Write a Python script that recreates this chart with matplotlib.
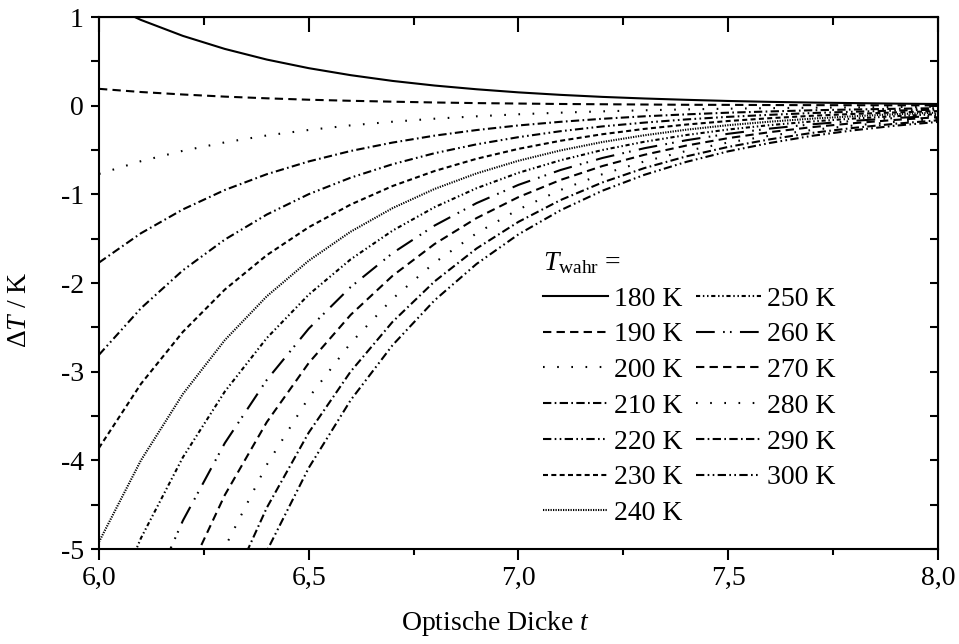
import matplotlib
matplotlib.use('Agg')
import matplotlib.pyplot as plt
import numpy as np

plt.rcParams['font.family'] = 'Liberation Serif'
plt.rcParams['mathtext.fontset'] = 'custom'
plt.rcParams['mathtext.rm'] = 'Liberation Serif'
plt.rcParams['mathtext.it'] = 'Liberation Serif:italic'

# optical depth samples
tau = [6.0, 6.1, 6.2, 6.3, 6.4, 6.5, 6.6, 6.7, 6.8, 6.9, 7.0,
       7.1, 7.2, 7.3, 7.4, 7.5, 7.6, 7.7, 7.8, 7.9, 8.0]

# delta T (K), one list per true temperature
dT_180 = [1.19, 0.967, 0.787, 0.640, 0.520, 0.423, 0.344, 0.279, 0.227, 0.185, 0.150,
          0.122, 0.099, 0.081, 0.066, 0.053, 0.043, 0.035, 0.029, 0.023, 0.019]
dT_190 = [0.19, 0.154, 0.126, 0.102, 0.083, 0.067, 0.055, 0.045, 0.036, 0.029, 0.024,
          0.019, 0.016, 0.013, 0.010, 0.009, 0.007, 0.006, 0.005, 0.004, 0.003]
dT_200 = [-0.77, -0.626, -0.509, -0.414, -0.336, -0.274, -0.222, -0.181, -0.147, -0.120, -0.097,
          -0.079, -0.064, -0.052, -0.042, -0.034, -0.028, -0.023, -0.019, -0.015, -0.012]
dT_210 = [-1.77, -1.439, -1.170, -0.951, -0.773, -0.629, -0.511, -0.416, -0.338, -0.275, -0.223,
          -0.182, -0.148, -0.120, -0.098, -0.079, -0.065, -0.052, -0.043, -0.035, -0.028]
dT_220 = [-2.81, -2.285, -1.857, -1.510, -1.228, -0.998, -0.812, -0.660, -0.536, -0.436, -0.355,
          -0.288, -0.234, -0.191, -0.155, -0.126, -0.103, -0.083, -0.068, -0.055, -0.045]
dT_230 = [-3.86, -3.138, -2.551, -2.074, -1.686, -1.371, -1.115, -0.906, -0.737, -0.599, -0.487,
          -0.396, -0.322, -0.262, -0.213, -0.173, -0.141, -0.114, -0.093, -0.076, -0.061]
dT_240 = [-4.92, -4.000, -3.252, -2.644, -2.150, -1.748, -1.421, -1.155, -0.939, -0.764, -0.621,
          -0.505, -0.410, -0.334, -0.271, -0.220, -0.180, -0.146, -0.119, -0.096, -0.078]
dT_250 = [-6.0, -4.878, -3.966, -3.224, -2.621, -2.131, -1.733, -1.409, -1.145, -0.931, -0.757,
          -0.616, -0.500, -0.407, -0.331, -0.269, -0.219, -0.178, -0.145, -0.118, -0.095]
dT_260 = [-7.08, -5.756, -4.680, -3.805, -3.093, -2.515, -2.045, -1.662, -1.352, -1.099, -0.893,
          -0.726, -0.590, -0.480, -0.390, -0.317, -0.258, -0.210, -0.171, -0.139, -0.113]
dT_270 = [-8.17, -6.642, -5.400, -4.391, -3.569, -2.902, -2.359, -1.918, -1.560, -1.268, -1.031,
          -0.838, -0.681, -0.554, -0.450, -0.366, -0.298, -0.242, -0.197, -0.160, -0.130]
dT_280 = [-9.27, -7.537, -6.127, -4.982, -4.050, -3.293, -2.677, -2.177, -1.770, -1.439, -1.170,
          -0.951, -0.773, -0.629, -0.511, -0.415, -0.338, -0.274, -0.223, -0.182, -0.147]
dT_290 = [-10.38, -8.439, -6.861, -5.578, -4.535, -3.687, -2.998, -2.437, -1.982, -1.611, -1.310,
          -1.065, -0.866, -0.704, -0.572, -0.465, -0.379, -0.307, -0.250, -0.203, -0.165]
dT_300 = [-11.5, -9.350, -7.602, -6.180, -5.024, -4.085, -3.321, -2.700, -2.195, -1.785, -1.451,
          -1.180, -0.959, -0.780, -0.634, -0.515, -0.420, -0.340, -0.277, -0.225, -0.183]

labels = ['180 K', '190 K', '200 K', '210 K', '220 K', '230 K', '240 K',
          '250 K', '260 K', '270 K', '280 K', '290 K', '300 K']
series = [dT_180, dT_190, dT_200, dT_210, dT_220, dT_230, dT_240,
          dT_250, dT_260, dT_270, dT_280, dT_290, dT_300]

# Origin-like dash patterns (in linewidth units)
styles = [
    '-',
    (0, (4, 2.5)),
    (0, (0.8, 6)),
    (0, (4, 1.6, 0.8, 1.6)),
    (0, (4, 1.6, 0.8, 1.6, 0.8, 1.6)),
    (0, (2.4, 1.6)),
    (0, (0.6, 0.6)),
    (0, (2, 1.3, 0.7, 1.3, 0.7, 1.3)),
    (0, (9, 4, 0.8, 2.5, 0.8, 4)),
    (0, (4, 2.5)),
    (0, (0.8, 6)),
    (0, (4, 1.6, 0.8, 1.6)),
    (0, (4, 1.6, 0.8, 1.6, 0.8, 1.6)),
]

xtick_vals = [6.0, 6.5, 7.0, 7.5, 8.0]
xtick_labels = ['6,0', '6,5', '7,0', '7,5', '8,0']
ytick_vals = [-5, -4, -3, -2, -1, 0, 1]
ytick_labels = ['-5', '-4', '-3', '-2', '-1', '0', '1']
xminor = [6.25, 6.75, 7.25, 7.75]
yminor = [-4.5, -3.5, -2.5, -1.5, -0.5, 0.5]

fig = plt.figure(figsize=(9.59, 6.44), dpi=100)
ax = fig.add_axes([0.1032, 0.1475, 0.8749, 0.8261])

for y, lab, ls in zip(series, labels, styles):
    ax.plot(tau, y, color='black', linewidth=1.5, linestyle=ls, label=lab)

ax.set_xlim(6.0, 8.0)
ax.set_ylim(-5, 1)
ax.set_xticks(xtick_vals)
ax.set_xticklabels(xtick_labels)
ax.set_xticks(xminor, minor=True)
ax.set_yticks(ytick_vals)
ax.set_yticklabels(ytick_labels)
ax.set_yticks(yminor, minor=True)

for sp in ax.spines.values():
    sp.set_linewidth(1.5)

ax.tick_params(axis='both', which='both', direction='out', labelsize=20, width=1.5)
ax.tick_params(axis='x', which='major', length=8, pad=4)
ax.tick_params(axis='x', which='minor', length=4.5)
ax.tick_params(axis='y', which='major', length=6, pad=5)
ax.tick_params(axis='y', which='minor', length=6)

top = ax.secondary_xaxis('top')
top.set_xticks(xtick_vals)
top.set_xticks(xminor, minor=True)
top.tick_params(which='both', direction='in', labeltop=False, width=1.5)
top.tick_params(which='major', length=11)
top.tick_params(which='minor', length=6)
right = ax.secondary_yaxis('right')
right.set_yticks(ytick_vals)
right.set_yticks(yminor, minor=True)
right.tick_params(which='both', direction='in', labelright=False, width=1.5, length=6)

ax.set_xlabel(r'Optische Dicke $t$', fontsize=20)
ax.set_ylabel(r'$\Delta T$ / K', fontsize=20)
ax.xaxis.set_label_coords(0.473, -0.113)
ax.yaxis.set_label_coords(-0.080, 0.449)

leg = ax.legend(ncol=2, frameon=False, fontsize=20,
                title=r'$T_{\mathrm{wahr}}$ =', title_fontsize=20,
                loc='upper left', bbox_to_anchor=(0.529, 0.562),
                handlelength=2.35, handletextpad=0.2, columnspacing=0.5,
                labelspacing=0.37, borderaxespad=0, borderpad=0, alignment='left')

fig.savefig('out.png', dpi=100)
